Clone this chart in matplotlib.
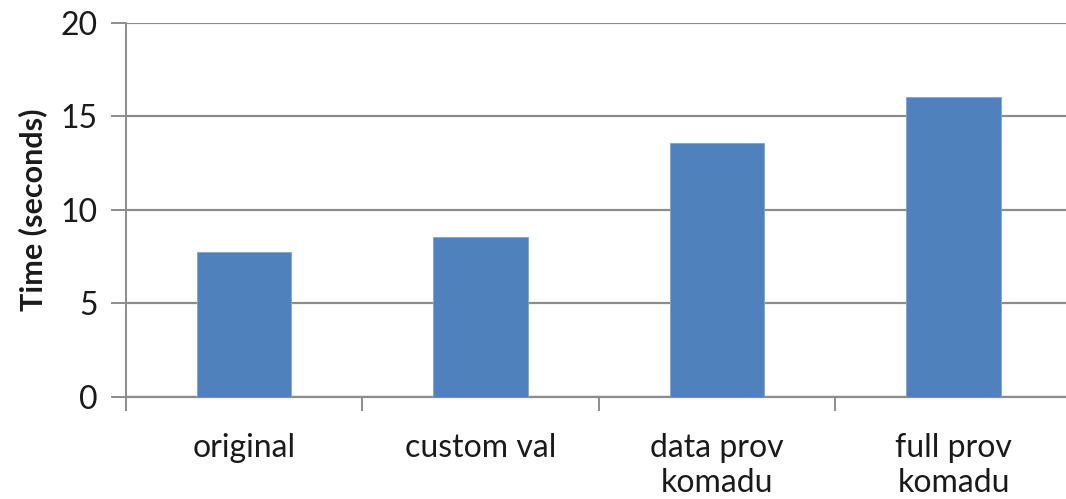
import matplotlib
matplotlib.use("Agg")
import matplotlib.pyplot as plt
import numpy as np

categories = ["original", "custom val", "data prov\nkomadu", "full prov\nkomadu"]
times = [7.73, 8.53, 13.55, 16.05]
y_ticks = [0, 5, 10, 15, 20]

plt.rcParams["font.family"] = ["Lato", "DejaVu Sans"]

W, H = 1066, 499
fig = plt.figure(figsize=(W / 100, H / 100), dpi=100)
left, right = 125.75, 1071.75
bottom, top = 397, 22.7
ax = fig.add_axes([left / W, 1 - bottom / H, (right - left) / W, (bottom - top) / H])

grid_c = "#8c8c8c"
text_c = "#1a1a1a"
x = np.arange(len(categories))
ax.bar(x, times, width=0.4, color="#4F81BD", edgecolor="#7fa3d0", linewidth=0.6, zorder=3)

ax.set_xlim(-0.5, len(categories) - 0.5)
ax.set_ylim(0, 20)
ax.set_yticks(y_ticks)
ax.yaxis.grid(True, color=grid_c, linewidth=1.6, zorder=0)
ax.set_axisbelow(True)

for s in ["top", "right"]:
    ax.spines[s].set_visible(False)
ax.spines["left"].set_color(grid_c)
ax.spines["left"].set_linewidth(1.4)
ax.spines["bottom"].set_color(grid_c)
ax.spines["bottom"].set_linewidth(1.6)

ax.set_xticks(x)
ax.set_xticklabels(categories, fontsize=23, color=text_c, linespacing=1.2)
ax.set_xticks(np.arange(-0.5, len(categories) + 0.5, 1), minor=True)
ax.tick_params(axis="x", which="major", length=0, pad=26)
ax.tick_params(axis="x", which="minor", length=10, width=1.4, color=grid_c, direction="out")
ax.tick_params(axis="y", length=11, width=1.4, color=grid_c, direction="out",
               labelsize=23, labelcolor=text_c, pad=9)

ax.set_ylabel("Time (seconds)", fontsize=22, fontweight="bold", color=text_c, labelpad=10)

fig.savefig("out.png", dpi=100)
